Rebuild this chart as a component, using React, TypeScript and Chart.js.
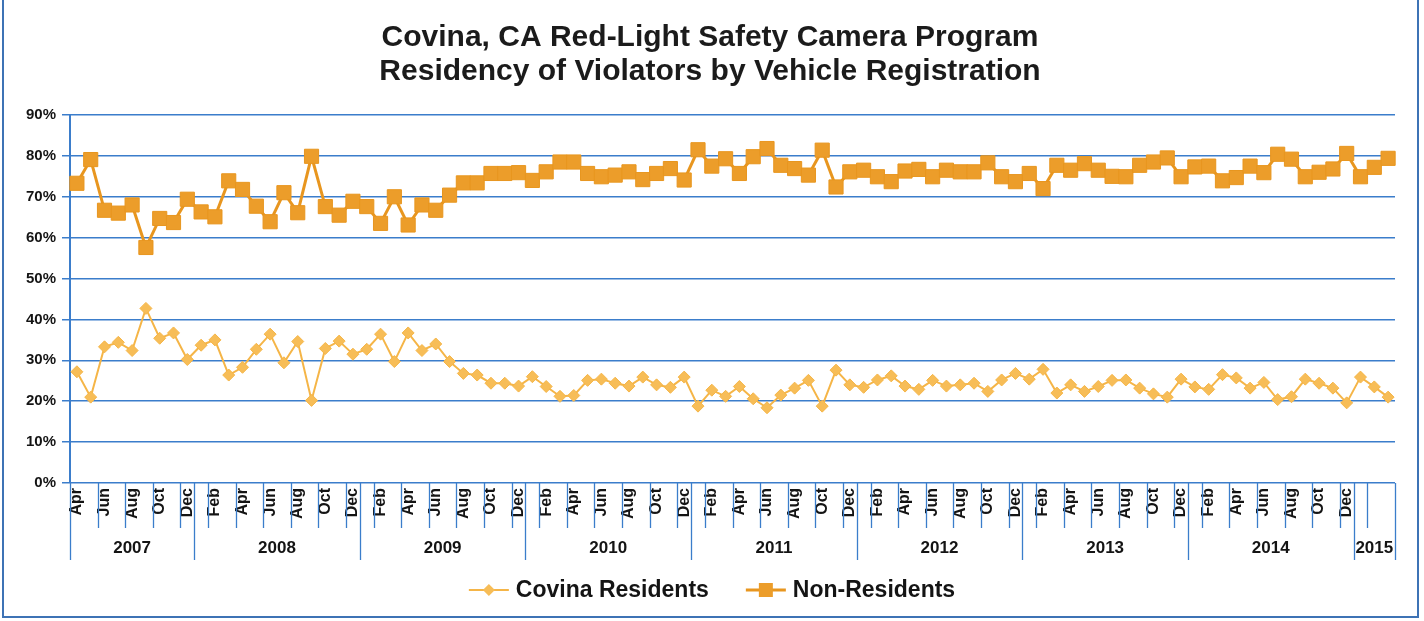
import React, { useEffect, useRef } from 'react';
import { Chart, registerables } from 'chart.js';

Chart.register(...registerables);

const TITLE_LINES = [
  'Covina, CA Red-Light Safety Camera Program',
  'Residency of Violators by Vehicle Registration',
];
const yearLabels = ['2007', '2008', '2009', '2010', '2011', '2012', '2013', '2014', '2015'];
const monthsPerYear = [9, 12, 12, 12, 12, 12, 12, 12, 3];
const monthNames = ['Jan', 'Feb', 'Mar', 'Apr', 'May', 'Jun', 'Jul', 'Aug', 'Sep', 'Oct', 'Nov', 'Dec'];
const firstMonthIndex = 3; // April 2007
const unlabeledYears = ['2015'];
const seriesNames = ['Covina Residents', 'Non-Residents'];
const yMax = 90;
const yStep = 10;

const covinaResidents = [
  27.2, 21.0, 33.3, 34.4, 32.4, 42.7, 35.4, 36.7, 30.2, 33.7, 35.0, 26.4,
  28.3, 32.7, 36.4, 29.4, 34.6, 20.2, 32.9, 34.7, 31.5, 32.7, 36.4, 29.7,
  36.7, 32.4, 34.0, 29.7, 26.8, 26.4, 24.4, 24.4, 23.7, 26.0, 23.6, 21.2,
  21.4, 25.1, 25.4, 24.4, 23.7, 25.9, 24.0, 23.4, 25.9, 18.8, 22.7, 21.2,
  23.6, 20.6, 18.4, 21.5, 23.2, 25.1, 18.8, 27.6, 24.0, 23.4, 25.2, 26.2,
  23.7, 22.9, 25.1, 23.7, 24.0, 24.4, 22.4, 25.2, 26.8, 25.4, 27.8, 22.0,
  24.0, 22.4, 23.6, 25.1, 25.2, 23.2, 21.8, 21.0, 25.4, 23.5, 22.9, 26.5,
  25.7, 23.2, 24.6, 20.4, 21.1, 25.4, 24.4, 23.2, 19.6, 25.9, 23.5, 21.0,
];

const nonResidents = [
  73.3, 79.1, 66.7, 66.0, 68.0, 57.6, 64.7, 63.7, 69.4, 66.3, 65.1, 73.9,
  71.8, 67.7, 63.9, 71.0, 66.1, 79.9, 67.6, 65.5, 68.9, 67.6, 63.5, 70.0,
  63.1, 68.0, 66.7, 70.4, 73.4, 73.4, 75.7, 75.7, 75.9, 74.0, 76.1, 78.5,
  78.5, 75.7, 74.9, 75.3, 76.1, 74.2, 75.7, 76.9, 74.1, 81.5, 77.5, 79.3,
  75.7, 79.8, 81.8, 77.7, 76.9, 75.3, 81.4, 72.4, 76.1, 76.5, 74.9, 73.7,
  76.3, 76.7, 74.9, 76.5, 76.1, 76.1, 78.3, 74.9, 73.7, 75.7, 72.0, 77.7,
  76.5, 78.1, 76.5, 75.0, 74.9, 77.7, 78.5, 79.5, 74.9, 77.3, 77.5, 73.9,
  74.7, 77.5, 75.9, 80.4, 79.2, 74.9, 76.0, 76.8, 80.6, 74.9, 77.2, 79.4,
];

// categories (month + year) built from the year groups
const categories: string[] = [];
const categoryYears: string[] = [];
{
  let m = firstMonthIndex;
  yearLabels.forEach((y, yi) => {
    for (let k = 0; k < monthsPerYear[yi]; k++) {
      categories.push(monthNames[m % 12]);
      categoryYears.push(y);
      m++;
    }
  });
}

const FONT = '"Liberation Sans", Arial, Helvetica, sans-serif';
const GRID = '#3B7DCB';
const RES_LINE = '#F5B547';
const RES_FILL = '#F7BD57';
const NON_LINE = '#E8961F';
const NON_FILL = '#EC9D2A';
const TEXT = '#141414';

const axisDecor = {
  id: 'axisDecor',
  afterDraw(chart: any) {
    const xs = chart.scales.x;
    const ctx: CanvasRenderingContext2D = chart.ctx;
    const y0 = chart.chartArea.bottom;
    const n = categories.length;
    const half = (xs.getPixelForValue(1) - xs.getPixelForValue(0)) / 2;
    const bx = (i: number) => (i < n ? xs.getPixelForValue(i) - half : xs.getPixelForValue(n - 1) + half);
    ctx.save();
    ctx.strokeStyle = GRID;
    ctx.lineWidth = 1.3;
    for (let i = 0; i <= n; i++) {
      const isYear = i === 0 || i === n || categoryYears[i] !== categoryYears[i - 1];
      const isLabel = i < n && i % 2 === 0;
      if (!isYear && !isLabel) continue;
      const len = isYear ? 77 : 45;
      const x = Math.round(bx(i)) + 0.5;
      ctx.beginPath();
      ctx.moveTo(x, y0);
      ctx.lineTo(x, y0 + len);
      ctx.stroke();
    }
    // year group labels
    ctx.fillStyle = TEXT;
    ctx.font = `bold 17px ${FONT}`;
    ctx.textAlign = 'center';
    ctx.textBaseline = 'middle';
    let start = 0;
    yearLabels.forEach((y, yi) => {
      const end = start + monthsPerYear[yi];
      const cx = (bx(start) + bx(end)) / 2;
      ctx.fillText(y, cx, y0 + 65);
      start = end;
    });
    ctx.restore();
  },
};

const customLegend = {
  id: 'customLegend',
  afterDraw(chart: any) {
    const ctx: CanvasRenderingContext2D = chart.ctx;
    ctx.save();
    ctx.font = `bold 23px ${FONT}`;
    const symW = 40;
    const gapText = 7;
    const gapItem = 37;
    const items = chart.data.datasets.map((ds: any) => ({ ds, w: ctx.measureText(ds.label).width }));
    const total =
      items.reduce((a: number, it: any) => a + symW + gapText + it.w, 0) + gapItem * (items.length - 1);
    let x = chart.width / 2 - total / 2;
    const y = 590;
    items.forEach(({ ds, w }: any) => {
      ctx.strokeStyle = ds.borderColor;
      ctx.lineWidth = ds.borderWidth;
      ctx.beginPath();
      ctx.moveTo(x, y);
      ctx.lineTo(x + symW, y);
      ctx.stroke();
      const cx = x + symW / 2;
      ctx.fillStyle = ds.pointBackgroundColor;
      ctx.beginPath();
      if (ds.pointStyle === 'rect') {
        ctx.rect(cx - 7, y - 7, 14, 14);
      } else {
        ctx.moveTo(cx, y - 6);
        ctx.lineTo(cx + 6, y);
        ctx.lineTo(cx, y + 6);
        ctx.lineTo(cx - 6, y);
        ctx.closePath();
      }
      ctx.fill();
      ctx.fillStyle = TEXT;
      ctx.textAlign = 'left';
      ctx.textBaseline = 'middle';
      ctx.fillText(ds.label, x + symW + gapText, y + 1);
      x += symW + gapText + w + gapItem;
    });
    ctx.restore();
  },
};

export default function App() {
  const ref = useRef<HTMLCanvasElement>(null);

  useEffect(() => {
    document.body.style.margin = '0';
    const canvas = ref.current!;
    const chart = new Chart(canvas, {
      type: 'line',
      data: {
        labels: categories,
        datasets: [
          {
            label: seriesNames[0],
            data: covinaResidents,
            borderColor: RES_LINE,
            borderWidth: 2,
            pointStyle: 'rectRot',
            pointRadius: 6,
            pointBackgroundColor: RES_FILL,
            pointBorderColor: RES_LINE,
            pointBorderWidth: 1,
            tension: 0,
          },
          {
            label: seriesNames[1],
            data: nonResidents,
            borderColor: NON_LINE,
            borderWidth: 3,
            pointStyle: 'rect',
            pointRadius: 10,
            pointBackgroundColor: NON_FILL,
            pointBorderColor: NON_LINE,
            pointBorderWidth: 1,
            tension: 0,
          },
        ],
      },
      options: {
        animation: false,
        responsive: false,
        events: [],
        layout: { padding: { left: 25, right: 29, top: 0, bottom: 58 } },
        plugins: {
          legend: { display: false },
          tooltip: { enabled: false },
          title: {
            display: true,
            text: TITLE_LINES,
            color: '#1b1b1b',
            font: { family: FONT, size: 30, weight: 'bold', lineHeight: 1.15 },
            padding: { top: 20, bottom: 26 },
          },
        },
        scales: {
          x: {
            type: 'category',
            offset: true,
            grid: { display: false, drawTicks: false },
            border: { display: false },
            ticks: {
              autoSkip: false,
              minRotation: 90,
              maxRotation: 90,
              padding: 5,
              color: TEXT,
              font: { family: FONT, size: 16, weight: 'bold' },
              callback: (_v: any, i: number) =>
                i % 2 === 0 && !unlabeledYears.includes(categoryYears[i]) ? categories[i] : '',
            },
            afterFit: (s: any) => {
              s.height = 80;
            },
          },
          y: {
            min: 0,
            max: yMax,
            ticks: {
              stepSize: yStep,
              padding: 6,
              color: TEXT,
              font: { family: FONT, size: 15, weight: 'bold' },
              callback: (v: any) => `${v}%`,
            },
            grid: { color: GRID, lineWidth: 1.5, tickLength: 8 },
            border: { color: GRID, width: 2 },
            afterFit: (s: any) => {
              s.width = 45;
            },
          },
        },
      },
      plugins: [axisDecor, customLegend],
    } as any);
    return () => chart.destroy();
  }, []);

  return (
    <div style={{ position: 'relative', width: 1424, height: 621, background: '#fff', overflow: 'hidden' }}>
      <canvas ref={ref} width={1424} height={621} style={{ display: 'block', width: 1424, height: 621 }} />
      <div
        style={{
          position: 'absolute',
          left: 2,
          top: -2,
          width: 1413,
          height: 616,
          border: '2px solid #3E73B5',
          pointerEvents: 'none',
        }}
      />
    </div>
  );
}
